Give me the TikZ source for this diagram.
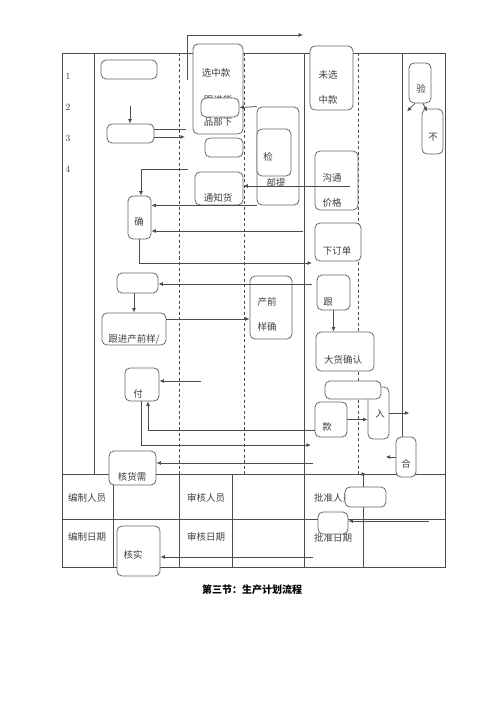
\documentclass[tikz,border=0pt]{standalone}
\usepackage{fontspec}
\newfontfamily\cjk{Noto Sans CJK SC}
\usetikzlibrary{arrows.meta}

\begin{document}
\begin{tikzpicture}[x=1pt,y=1pt,yscale=-1,xscale=1,
  rbox/.style={draw=black!60,fill=white,rounded corners=5pt,line width=0.8pt,inner sep=0pt},
  tabline/.style={draw=black!70,line width=0.8pt},
  lanedash/.style={draw=black!70,line width=0.8pt,dash pattern=on 3pt off 2.5pt},
  link/.style={draw=black!70,line width=0.8pt},
  arr/.style={link,-{Latex[length=4.5pt,width=4pt]}},
  lbl/.style={text=black!75,font=\cjk\fontsize{9.5}{11}\selectfont,inner sep=0pt},
  numlbl/.style={text=black!80,font=\fontsize{9.5}{11}\selectfont,inner sep=0pt}]
  \useasboundingbox (0,0) rectangle (500,708);

  %Table frame
  \draw[tabline] (62,53) rectangle (445,567);
  \draw[tabline] (94,53) -- (94,474);
  \draw[tabline] (304,53) -- (304,567);
  \draw[tabline] (402,53) -- (402,474);
  \draw[tabline] (62,474) -- (445,474);
  \draw[tabline] (62,519) -- (445,519);
  \draw[tabline] (113,474) -- (113,567);
  \draw[tabline] (179,474) -- (179,567);
  \draw[tabline] (232,474) -- (232,567);
  \draw[tabline] (363,474) -- (363,567);
  %Dashed lanes
  \draw[lanedash] (179,53) -- (179,474);
  \draw[lanedash] (244,53) -- (244,474);
  \draw[lanedash] (358,53) -- (358,474);

  % Text Node
  \node[numlbl] (n1) at (68,76) {1};
  \node[numlbl] (n2) at (68,107) {2};
  \node[numlbl] (n3) at (68,138) {3};
  \node[numlbl] (n4) at (68,169) {4};
  \node[lbl] (t_bzry) at (87,498) {编制人员};
  \node[lbl] (t_shry) at (206,498) {审核人员};
  \node[lbl] (t_pzry) at (333,498) {批准人员};
  \node[lbl] (t_bzrq) at (87,537) {编制日期};
  \node[lbl] (t_shrq) at (206,537) {审核日期};
  \node[lbl] (t_pzrq) at (333,538) {批准日期};

  %Rounded Rect
  \node[rbox,minimum width=56pt,minimum height=19pt] (row1) at (129,69.5) {};
  \node[rbox,minimum width=47pt,minimum height=19pt] (row3) at (130.5,133.5) {};
  \node[rbox,minimum width=50pt,minimum height=90pt] (xuanzhong) at (218,89) {};
  \node[lbl] at (216,73) {选中款};
  \node[lbl] at (218,100) {跟进货};
  \node[lbl] at (218,122) {品部下};
  \node[rbox,minimum width=38pt,minimum height=19pt] (genjin) at (220,107.5) {};
  \node[rbox,minimum width=38pt,minimum height=19pt] (row3b) at (224,147.5) {};
  \node[rbox,minimum width=48pt,minimum height=33pt] (tongzhi) at (219,188.5) {};
  \node[lbl] at (218,198) {通知货};
  \node[rbox,minimum width=42pt,minimum height=98pt] (jianout) at (278,156) {};
  \node[rbox,minimum width=34pt,minimum height=47pt] (jianin) at (274,152.5) {};
  \node[lbl] at (268,157) {检};
  \node[lbl] at (276,183) {部提};
  \node[rbox,minimum width=43pt,minimum height=64pt] (weixuan) at (331.5,78) {};
  \node[lbl] at (328,75) {未选};
  \node[lbl] at (328,100) {中款};
  \node[rbox,minimum width=43pt,minimum height=59pt] (goutong) at (336.5,180.5) {};
  \node[lbl] at (332,178) {沟通};
  \node[lbl] at (332,203) {价格};
  \node[rbox,minimum width=22pt,minimum height=40pt] (yan) at (420,83) {};
  \node[lbl] at (421,89) {验};
  \node[rbox,minimum width=21pt,minimum height=45pt] (bu) at (432.5,131.5) {};
  \node[lbl] at (433,137) {不};
  \node[rbox,minimum width=23pt,minimum height=43pt] (que) at (139.5,217.5) {};
  \node[lbl] at (139,222) {确};
  \node[rbox,minimum width=46pt,minimum height=38pt] (xiadan) at (338,242) {};
  \node[lbl] at (337,251) {下订单};
  \node[rbox,minimum width=33pt,minimum height=35pt] (gen) at (333.5,292.5) {};
  \node[lbl] at (328,302) {跟};
  \node[rbox,minimum width=41pt,minimum height=20pt] (row5) at (137.5,283) {};
  \node[rbox,minimum width=64pt,minimum height=32pt] (chanqian) at (134,329) {};
  \node[lbl] at (134,339) {跟进产前样/};
  \node[rbox,minimum width=42pt,minimum height=63pt] (yangque) at (271,307.5) {};
  \node[lbl] at (267,302) {产前};
  \node[lbl] at (267,327) {样确};
  \node[rbox,minimum width=58pt,minimum height=39pt] (dahuo) at (345,351.5) {};
  \node[lbl] at (343,360) {大货确认};
  \node[rbox,minimum width=21pt,minimum height=52pt] (ru) at (378.5,413) {};
  \node[lbl] at (380,414) {入};
  \node[rbox,minimum width=56pt,minimum height=18pt] (rutop) at (353,390) {};
  \node[rbox,minimum width=32pt,minimum height=35pt] (kuan) at (331,419.5) {};
  \node[lbl] at (327,427) {款};
  \node[rbox,minimum width=20pt,minimum height=40pt] (he) at (406,457) {};
  \node[lbl] at (406,464) {合};
  \node[rbox,minimum width=34pt,minimum height=33pt] (fu) at (142,384.5) {};
  \node[lbl] at (138,394) {付};
  \node[rbox,minimum width=47pt,minimum height=34pt] (hehuo) at (132.5,468) {};
  \node[lbl] at (132,477) {核货需};
  \node[rbox,minimum width=41pt,minimum height=20pt] (pizhun) at (365.5,497) {};
  \node[rbox,minimum width=30pt,minimum height=22pt] (pzdate) at (333,523) {};
  \node[rbox,minimum width=43pt,minimum height=50pt] (heshi) at (138.5,551) {};
  \node[lbl] at (133,555) {核实};

  %Straight Lines
  \coordinate (top0) at (187,80);
  \coordinate (top1) at (303,35);
  \draw[arr] (top0) |- (top1);
  \coordinate (in3) at (130,106);
  \draw[arr] (in3) -- (row3.north -| in3);
  \coordinate (o3a) at (186,129);
  \coordinate (o3b) at (185,137);
  \draw[link] (row3.east |- o3a) -- (o3a);
  \draw[arr] (row3.east |- o3b) -- (o3b);
  \coordinate (q0) at (188,169);
  \draw[arr] (q0) -| ([xshift=1.5pt]que.north);
  \draw[arr] (jianout.north west) -- (genjin.east);
  \coordinate (g0) at (350,186);
  \draw[arr] (g0) -- (g0 -| tongzhi.east);
  \draw[arr] (jianout.south west) -- (jianout.south west -| que.east);
  \coordinate (q1) at (303,231);
  \draw[arr] (q1) -- (q1 -| que.east);
  \coordinate (x0) at (312,263);
  \draw[arr] (que.south) |- (x0);
  \coordinate (r0) at (312,284);
  \draw[arr] (r0) -- (r0 -| row5.east);
  \draw[arr] (row5.south -| chanqian.north) -- (chanqian.north);
  \coordinate (c0) at (166,319);
  \draw[arr] (c0) -- (c0 -| yangque.west);
  \draw[arr] (gen.south) -- (gen.south |- dahuo.north);
  \draw[arr] (kuan.east) -- (kuan.east -| ru.west);
  \draw[arr] (ru.east) -- ++(20,0);
  \draw[arr] (he.west) -- ++(-10,0);
  \draw[arr] ([xshift=-5pt]yan.south) -- ++(-8,8);
  \draw[arr] ([xshift=3pt]yan.south) -- ++(4,8);
  \coordinate (f0) at (201,381);
  \draw[arr] (f0) -- (f0 -| fu.east);
  \coordinate (k0) at (315,430);
  \draw[arr] (k0) -| ([xshift=6pt]fu.south);
  \coordinate (k1) at (311,445);
  \draw[arr] ([xshift=-1pt]fu.south) |- (k1);
  \coordinate (k2) at (313,463);
  \draw[arr] (k2) -- (k2 -| hehuo.east);
  \coordinate (k3) at (366,474);
  \draw[arr] (hehuo.east |- k3) -- (k3);
  \coordinate (k4) at (429,521);
  \draw[arr] (k4) -- (k4 -| pzdate.east);
  \coordinate (k5) at (313,557);
  \draw[arr] (k5) -- (k5 -| heshi.east);

  % Caption
  \node[lbl,text=black,font=\cjk\bfseries\fontsize{10}{12}\selectfont] (caption) at (252,590) {第三节：生产计划流程};

\end{tikzpicture}
\end{document}
